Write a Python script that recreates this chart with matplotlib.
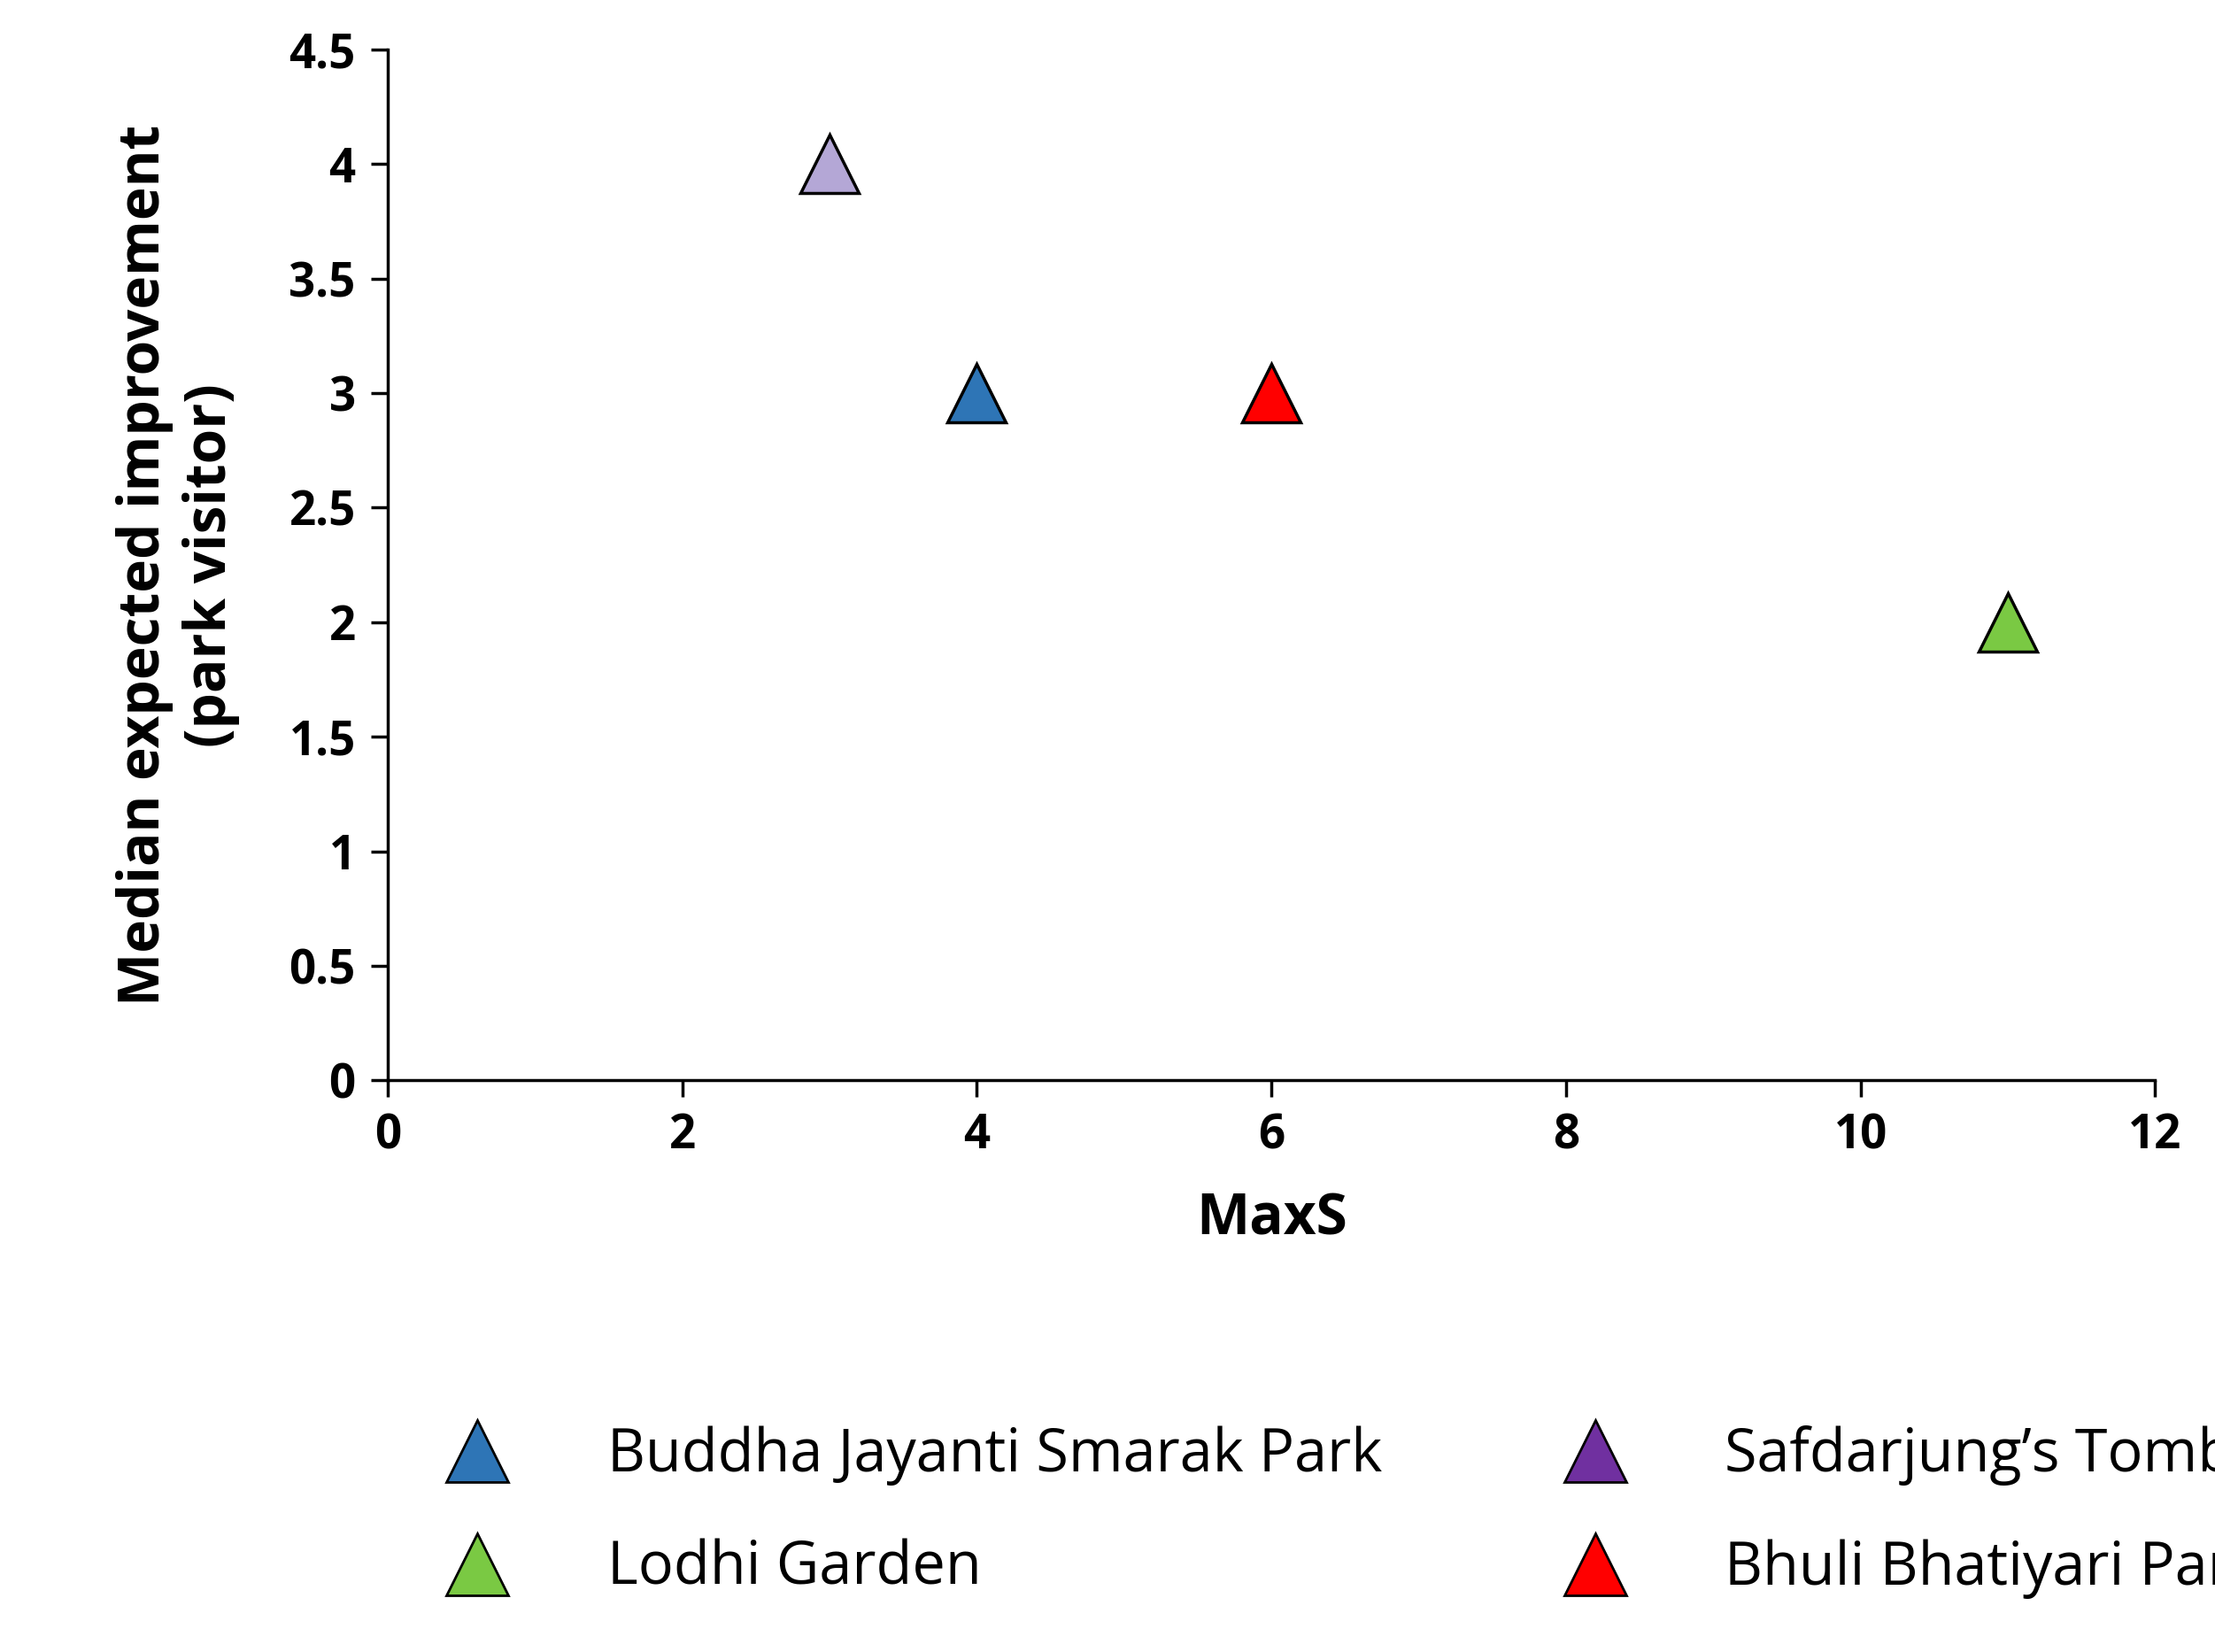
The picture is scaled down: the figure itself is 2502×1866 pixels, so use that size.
import matplotlib.pyplot as plt
from matplotlib.lines import Line2D

plt.rcParams['font.family'] = ['Open Sans', 'DejaVu Sans']

parks = ["Buddha Jayanti Smarak Park", "Safdarjung\u2019s Tomb", "Lodhi Garden", "Bhuli Bhatiyari Park"]
maxs = [4, 3, 11, 6]
median_improvement = [3, 4, 2, 3]
point_colors = ["#2e75b6", "#b4a7d6", "#7ac943", "#ff0000"]
legend_colors = ["#2e75b6", "#7030a0", "#7ac943", "#ff0000"]

fig = plt.figure(figsize=(25.02, 18.66), dpi=100)
ax = fig.add_axes([0.175, 0.346, 0.798, 0.624])

for x, y, c in zip(maxs, median_improvement, point_colors):
    ax.plot(x, y, marker="^", markersize=48, color=c, markeredgecolor="black",
            markeredgewidth=2.5, linestyle="none")

ax.set_xlim(0, 12)
ax.set_ylim(0, 4.5)
ax.set_xticks(range(0, 13, 2))
ax.set_yticks([i * 0.5 for i in range(10)])
ax.set_yticklabels(["0", "0.5", "1", "1.5", "2", "2.5", "3", "3.5", "4", "4.5"])
for s in ["top", "right"]:
    ax.spines[s].set_visible(False)
for s in ["left", "bottom"]:
    ax.spines[s].set_linewidth(2.5)
ax.tick_params(axis="both", labelsize=38, width=2.5, length=14, pad=12)
for lab in ax.get_xticklabels() + ax.get_yticklabels():
    lab.set_fontweight("bold")
ax.set_xlabel("MaxS", fontsize=46, fontweight="bold", labelpad=25)
ax.set_ylabel("Median expected improvement\n(park visitor)", fontsize=46,
              fontweight="bold", labelpad=40, linespacing=1.2)

handles = [Line2D([], [], marker="^", markersize=50, color=c, markeredgecolor="black",
                  markeredgewidth=2, linestyle="none") for c in legend_colors]
order = [0, 2, 1, 3]
fig.legend([handles[i] for i in order], [parks[i] for i in order], loc="lower left",
           bbox_to_anchor=(0.165, 0.0), ncol=2, frameon=False, fontsize=48,
           columnspacing=2.6, handletextpad=1.2, labelspacing=0.9)

fig.savefig("out.png", dpi=100)
